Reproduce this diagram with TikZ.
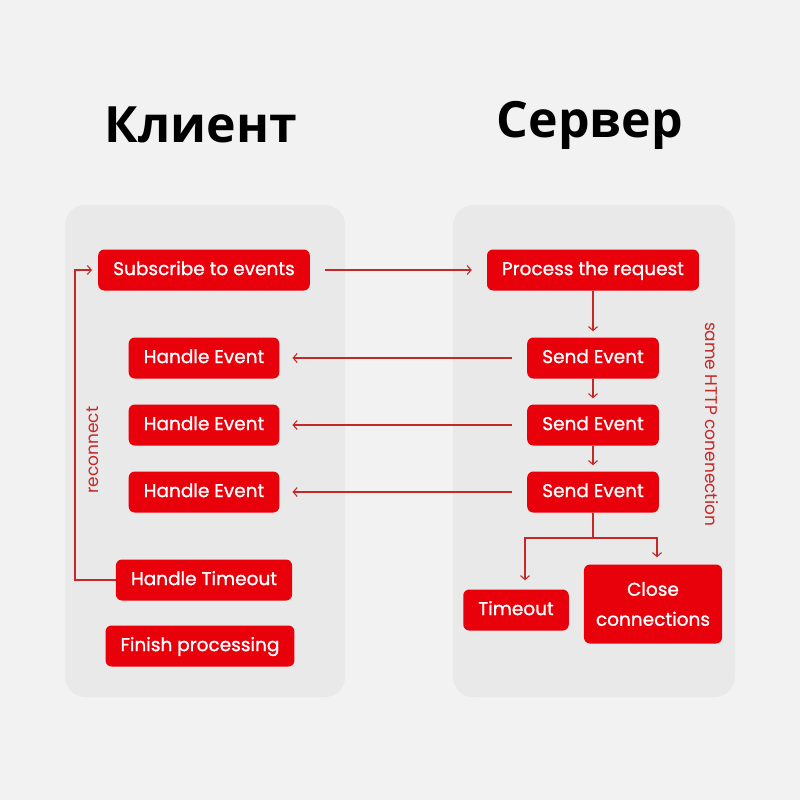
\documentclass[tikz,border=0pt]{standalone}
\usepackage{fontspec}
\setmainfont{Poppins}
\newfontfamily\titlefont{Open Sans}
\newfontfamily\boxfont{Poppins}[FakeBold=1.1]
\usetikzlibrary{arrows.meta}
\definecolor{boxred}{HTML}{E8000B}
\definecolor{linered}{HTML}{C62828}
\definecolor{panelgray}{HTML}{E9E9E9}
\definecolor{bggray}{HTML}{F2F2F2}

\begin{document}
\begin{tikzpicture}[x=1pt,y=-1pt]

        \tikzset{
            block/.style={fill=boxred, text=white, rounded corners=6pt, minimum height=41pt, inner xsep=15pt, inner ysep=2pt, text height=1.24em, text depth=0.22em, font=\boxfont\fontsize{18.5}{21}\selectfont},
            panel/.style={fill=panelgray, rounded corners=20pt},
            flow/.style={-{Straight Barb[length=4pt,width=9pt]}, draw=linered, line width=1.1pt},
            side/.style={text=linered, font=\fontsize{17}{20}\selectfont},
            heading/.style={font=\titlefont\bfseries\fontsize{50}{56}\selectfont}
        }

        \fill[bggray] (0,0) rectangle (800,800);
        \fill[panel] (65,205) rectangle (345,697);
        \fill[panel] (453,205) rectangle (735,697);

        \node[heading] (client) at (201,125) {Клиент};
        \node[heading] (server) at (590,125) {Сервер};

        \node[block] (sub) at (204,270) {Subscribe to events};
        \node[block] (proc) at (593,270) {Process the request};

        \node[block] (handle1) at (204,358) {Handle Event};
        \node[block] (handle2) at (204,425) {Handle Event};
        \node[block] (handle3) at (204,492) {Handle Event};

        \node[block] (send1) at (593,358) {Send Event};
        \node[block] (send2) at (593,425) {Send Event};
        \node[block] (send3) at (593,492) {Send Event};

        \node[block] (htimeout) at (204,580) {Handle Timeout};
        \node[block] (finish) at (200,646) {Finish processing};

        \node[block] (stimeout) at (516,610) {Timeout};
        \node[block, align=center, minimum height=79pt, inner xsep=12pt, text height=, text depth=, font=\boxfont\fontsize{18.5}{30}\selectfont] (close) at (653,604) {Close\\connections};

        \node[side, rotate=90] (reconn) at (93,450) {reconnect};
        \node[side, rotate=-90] (same) at (712,424) {same HTTP conenection};

        \coordinate (split) at (593,538);
        \coordinate (loop) at (75,580);

        \draw[flow, shorten <=15pt, shorten >=15pt] (sub) -- (proc);
        \draw[flow, shorten >=6pt] (proc) -- (send1);
        \draw[flow, shorten >=6pt] (send1) -- (send2);
        \draw[flow, shorten >=6pt] (send2) -- (send3);

        \foreach \i in {1,2,3} {
            \draw[flow, shorten <=15pt, shorten >=13pt] (send\i) -- (handle\i);
        }

        \draw[flow, shorten >=9pt] (send3.south) -- (split) -| ([xshift=9pt]stimeout.north);
        \draw[flow, shorten >=7pt] (split) -| ([xshift=4pt]close.north);

        \draw[flow, shorten >=6pt] (htimeout.west) -- (loop) |- (sub.west);

\end{tikzpicture}
\end{document}
